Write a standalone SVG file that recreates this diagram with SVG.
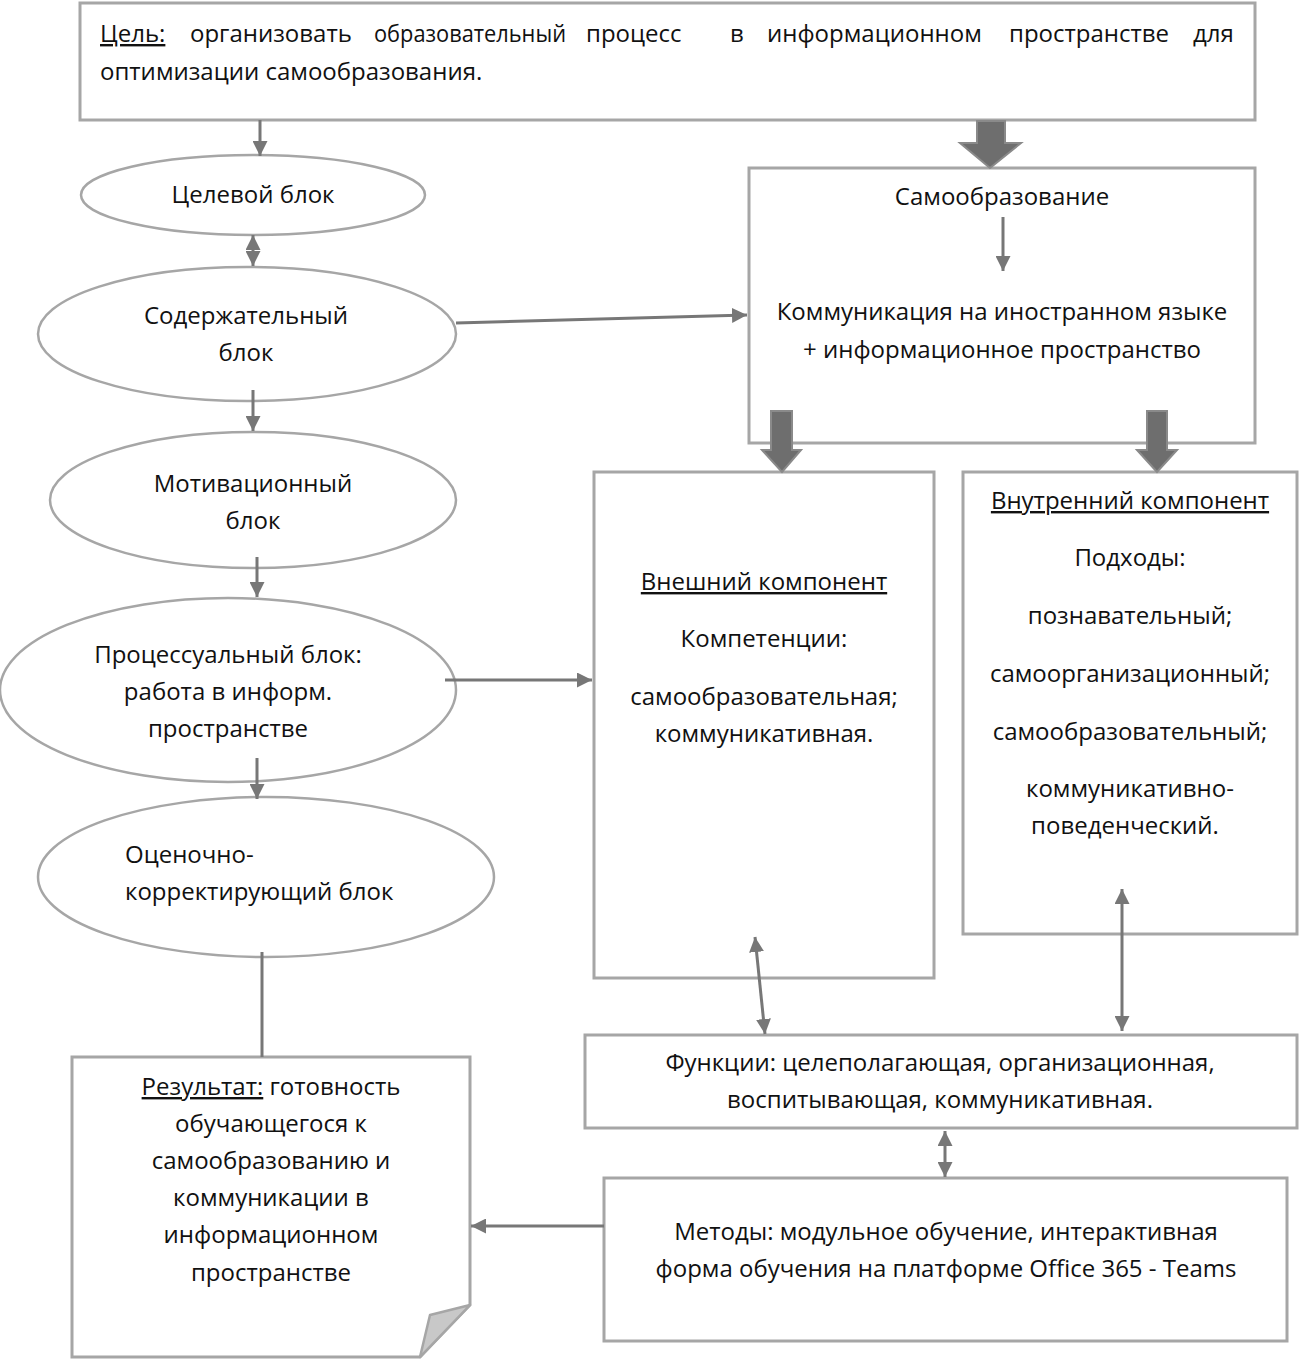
<svg xmlns="http://www.w3.org/2000/svg" width="1299" height="1364" viewBox="0 0 1299 1364">
<style>
.box{fill:#fff;stroke:#a6a6a6;stroke-width:3}
.ell{fill:#fff;stroke:#a6a6a6;stroke-width:2.5}
.t{font-family:"Open Sans","Noto Sans","DejaVu Sans",sans-serif;font-size:24px;fill:#111}
.c{text-anchor:middle}
.u{text-decoration:underline}
.ln{stroke:#777;stroke-width:3;fill:none}
.thick{fill:#6e6e6e;stroke:#8a8a8a;stroke-width:2}
</style>
<defs>
<marker id="ah" viewBox="0 0 10 10" refX="10" refY="5" markerWidth="5" markerHeight="5" orient="auto-start-reverse" markerUnits="strokeWidth">
<path d="M0,0 L10,5 L0,10 z" fill="#777"/>
</marker>
</defs>
<rect width="1299" height="1364" fill="#fff"/>

<g id="goal">
<rect class="box" x="80" y="3" width="1175" height="117"/>
<text class="t u" x="100" y="42">Цель:</text>
<text class="t" x="190" y="42">организовать</text>
<text class="t" x="374" y="42" textLength="192" lengthAdjust="spacingAndGlyphs">образовательный</text>
<text class="t" x="586" y="42">процесс</text>
<text class="t" x="730" y="42">в</text>
<text class="t" x="767" y="42">информационном</text>
<text class="t" x="1009" y="42">пространстве</text>
<text class="t" x="1193" y="42">для</text>
<text class="t" x="100" y="80">оптимизации самообразования.</text>
</g>

<g id="n-target">
<ellipse class="ell" cx="253" cy="195" rx="172" ry="40"/>
<text class="t c" x="253" y="203">Целевой блок</text>
</g>
<g id="n-content">
<ellipse class="ell" cx="247" cy="334" rx="209" ry="67"/>
<text class="t c" x="246" y="324">Содержательный</text>
<text class="t c" x="246" y="361">блок</text>
</g>
<g id="n-motiv">
<ellipse class="ell" cx="253" cy="500" rx="203" ry="68"/>
<text class="t c" x="253" y="492">Мотивационный</text>
<text class="t c" x="253" y="529">блок</text>
</g>
<g id="n-proc">
<ellipse class="ell" cx="228" cy="690" rx="228" ry="92"/>
<text class="t c" x="228" y="663">Процессуальный блок:</text>
<text class="t c" x="228" y="700">работа в информ.</text>
<text class="t c" x="228" y="737">пространстве</text>
</g>
<g id="n-eval">
<ellipse class="ell" cx="266" cy="877" rx="228" ry="80"/>
<text class="t" x="125" y="863">Оценочно-</text>
<text class="t" x="125" y="900">корректирующий блок</text>
</g>
<g id="n-result">
<path class="box" d="M72,1057 H470 V1305 L420,1357 H72 Z"/>
<path d="M470,1305 L430,1315 L420,1357 Z" fill="#c8c8c8" stroke="#a6a6a6" stroke-width="2.5" stroke-linejoin="round"/>
<text class="t c" x="271" y="1095"><tspan class="u">Результат:</tspan> готовность</text>
<text class="t c" x="271" y="1132">обучающегося к</text>
<text class="t c" x="271" y="1169">самообразованию и</text>
<text class="t c" x="271" y="1206">коммуникации в</text>
<text class="t c" x="271" y="1243">информационном</text>
<text class="t c" x="271" y="1281">пространстве</text>
</g>
<g id="n-self">
<rect class="box" x="749" y="168" width="506" height="275"/>
<text class="t c" x="1002" y="205">Самообразование</text>
<text class="t c" x="1002" y="320">Коммуникация на иностранном языке</text>
<text class="t c" x="1002" y="358">+ информационное пространство</text>
</g>
<g id="n-ext">
<rect class="box" x="594" y="472" width="340" height="506"/>
<text class="t c u" x="764" y="590">Внешний компонент</text>
<text class="t c" x="764" y="647">Компетенции:</text>
<text class="t c" x="764" y="705">самообразовательная;</text>
<text class="t c" x="764" y="742">коммуникативная.</text>
</g>
<g id="n-int">
<rect class="box" x="963" y="472" width="334" height="462"/>
<text class="t c u" x="1130" y="509">Внутренний компонент</text>
<text class="t c" x="1130" y="566">Подходы:</text>
<text class="t c" x="1130" y="624">познавательный;</text>
<text class="t c" x="1130" y="682">самоорганизационный;</text>
<text class="t c" x="1130" y="740">самообразовательный;</text>
<text class="t c" x="1130" y="797">коммуникативно-</text>
<text class="t c" x="1125" y="834">поведенческий.</text>
</g>
<g id="n-func">
<rect class="box" x="585" y="1035" width="712" height="93"/>
<text class="t c" x="940" y="1071">Функции: целеполагающая, организационная,</text>
<text class="t c" x="940" y="1108">воспитывающая, коммуникативная.</text>
</g>
<g id="n-meth">
<rect class="box" x="604" y="1178" width="683" height="163"/>
<text class="t c" x="946" y="1240">Методы: модульное обучение, интерактивная</text>
<text class="t c" x="946" y="1277">форма обучения на платформе Office 365 - Teams</text>
</g>

<g id="connectors">
<line class="ln" x1="260" y1="120" x2="260" y2="156" marker-end="url(#ah)"/>
<line class="ln" x1="253" y1="235" x2="253" y2="266" marker-start="url(#ah)" marker-end="url(#ah)"/>
<line class="ln" x1="456" y1="323" x2="747" y2="315" marker-end="url(#ah)"/>
<line class="ln" x1="253" y1="390" x2="253" y2="431" marker-end="url(#ah)"/>
<line class="ln" x1="257" y1="557" x2="257" y2="597" marker-end="url(#ah)"/>
<line class="ln" x1="445" y1="680" x2="592" y2="680" marker-end="url(#ah)"/>
<line class="ln" x1="257" y1="758" x2="257" y2="799" marker-end="url(#ah)"/>
<line class="ln" x1="262" y1="952" x2="262" y2="1057"/>
<line class="ln" x1="1003" y1="217" x2="1003" y2="271" marker-end="url(#ah)"/>
<line class="ln" x1="755" y1="937" x2="765" y2="1034" marker-start="url(#ah)" marker-end="url(#ah)"/>
<line class="ln" x1="1122" y1="889" x2="1122" y2="1031" marker-start="url(#ah)" marker-end="url(#ah)"/>
<line class="ln" x1="945" y1="1131" x2="945" y2="1177" marker-start="url(#ah)" marker-end="url(#ah)"/>
<line class="ln" x1="604" y1="1226" x2="471" y2="1226" marker-end="url(#ah)"/>
<path class="thick" d="M977,121 H1005 V143 H1021 L990,168 L960,143 H977 Z"/>
<path class="thick" d="M771,411 H792 V450 H801 L782,472 L762,450 H771 Z"/>
<path class="thick" d="M1147,411 H1167 V450 H1177 L1157,472 L1137,450 H1147 Z"/>
</g>
</svg>
